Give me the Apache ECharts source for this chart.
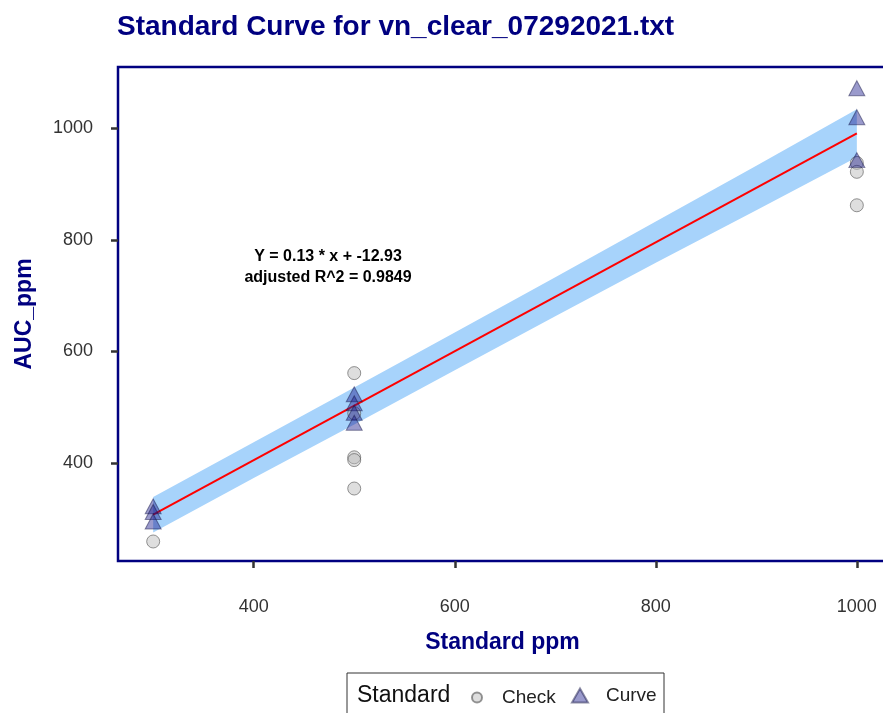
<!DOCTYPE html>
<html>
<head>
<meta charset="utf-8">
<script src="https://cdn.jsdelivr.net/npm/echarts@6/dist/echarts.min.js"></script>
<style>
  html, body { margin: 0; padding: 0; background: #fff; }
  #chart { width: 883px; height: 713px; }
</style>
</head>
<body>
<div id="chart"></div>
<script>
// standard points (Curve) and check samples
const curveX = [300, 300, 300, 500, 500, 500, 500, 1000, 1000, 1000];
const curveY = [322, 312, 295, 523, 507, 490, 472, 1072, 1020, 943];
const checkX = [300, 500, 500, 500, 500, 500, 1000, 1000, 1000];
const checkY = [259, 561, 489, 410, 405, 354, 938, 922, 862];

// fitted line and its band
const fitX = [300, 1000];
const fitY = [307, 991];
const bandX = [300, 400, 500, 600, 700, 800, 900, 1000];
const bandLower = [275, 373, 469, 566, 663, 759, 853, 948];
const bandUpper = [339, 437, 535, 634, 733, 833, 933, 1034];

const xTicks = [400, 600, 800, 1000];
const yTicks = [400, 600, 800, 1000];

const navy = '#000080';
const font = 'Liberation Sans';

const pairs = (xs, ys) => xs.map((x, i) => [x, ys[i]]);

const chart = echarts.init(document.getElementById('chart'));

// band drawn as one polygon: upper edge left->right, lower edge back
function renderBand(params, api) {
	if (params.dataIndex !== 0) return;
	const top = bandX.map((x, i) => api.coord([x, bandUpper[i]]));
	const bottom = bandX.map((x, i) => api.coord([x, bandLower[i]])).reverse();
	return {
		type: 'polygon',
		shape: {points: top.concat(bottom)},
		style: {fill: '#a7d3fb'},
		silent: true,
	};
}

chart.setOption({
	animation: false,
	textStyle: {fontFamily: font},
	title: {
		text: 'Standard Curve for vn_clear_07292021.txt',
		left: 117,
		top: 13,
		padding: 0,
		textStyle: {fontFamily: font, fontSize: 28, fontWeight: 'bold', color: navy},
	},
	grid: {
		show: true,
		left: 118,
		top: 67,
		width: 769,
		height: 494,
		outerBoundsMode: 'none',
		borderColor: navy,
		borderWidth: 2.5,
		backgroundColor: '#fff',
	},
	legend: [
		{
			data: ['Check'],
			left: 466,
			top: 683,
			itemWidth: 10,
			itemHeight: 10,
			textStyle: {fontFamily: font, fontSize: 19, color: '#222', padding: [0, 0, 0, 15]},
		},
		{
			data: ['Curve'],
			left: 566,
			top: 681,
			itemWidth: 16,
			itemHeight: 14,
			textStyle: {fontFamily: font, fontSize: 19, color: '#222', padding: [0, 0, 0, 13]},
		},
	],
	graphic: [
		{
			type: 'rect',
			shape: {x: 347, y: 673, width: 317, height: 60},
			style: {fill: 'none', stroke: '#333', lineWidth: 1},
		},
		{
			type: 'text',
			left: 357,
			top: 684,
			style: {text: 'Standard', font: '23px "Liberation Sans"', fill: '#111'},
		},
		{
			type: 'text',
			x: 328,
			y: 257,
			style: {
				text: 'Y = 0.13 * x + -12.93',
				font: 'bold 16px "Liberation Sans"',
				fill: '#000',
				align: 'center',
				verticalAlign: 'middle',
			},
		},
		{
			type: 'text',
			x: 328,
			y: 278,
			style: {
				text: 'adjusted R^2 = 0.9849',
				font: 'bold 16px "Liberation Sans"',
				fill: '#000',
				align: 'center',
				verticalAlign: 'middle',
			},
		},
	],
	xAxis: {
		type: 'value',
		min: 265,
		max: 1030,
		name: 'Standard ppm',
		nameLocation: 'middle',
		nameGap: 70,
		nameTextStyle: {fontFamily: font, fontSize: 23, fontWeight: 'bold', color: navy},
		axisLine: {show: false},
		splitLine: {show: false},
		axisTick: {
			show: true,
			length: 7,
			customValues: xTicks,
			lineStyle: {color: '#333', width: 2.5},
		},
		axisLabel: {
			customValues: xTicks,
			margin: 37,
			fontFamily: font,
			fontSize: 18,
			color: '#333',
			formatter: v => String(v),
		},
	},
	yAxis: {
		type: 'value',
		min: 224,
		max: 1110,
		name: 'AUC_ppm',
		nameLocation: 'middle',
		nameGap: 82,
		nameTextStyle: {fontFamily: font, fontSize: 23, fontWeight: 'bold', color: navy},
		axisLine: {show: false},
		splitLine: {show: false},
		axisTick: {
			show: true,
			length: 7,
			customValues: yTicks,
			lineStyle: {color: '#333', width: 2.5},
		},
		axisLabel: {
			customValues: yTicks,
			margin: 25,
			fontFamily: font,
			fontSize: 18,
			color: '#333',
			formatter: v => String(v),
		},
	},
	series: [
		{
			name: 'band',
			type: 'custom',
			renderItem: renderBand,
			data: pairs(bandX, bandLower),
			encode: {x: 0, y: 1},
			clip: true,
			silent: true,
			z: 1,
		},
		{
			name: 'fit',
			type: 'line',
			data: pairs(fitX, fitY),
			showSymbol: false,
			lineStyle: {color: '#ff0000', width: 2},
			silent: true,
			z: 2,
		},
		{
			name: 'Check',
			type: 'scatter',
			data: pairs(checkX, checkY),
			symbol: 'circle',
			symbolSize: 13,
			itemStyle: {
				color: 'rgba(185,185,185,0.6)',
				borderColor: 'rgba(80,80,80,0.75)',
				borderWidth: 1,
			},
			z: 3,
		},
		{
			name: 'Curve',
			type: 'scatter',
			data: pairs(curveX, curveY),
			symbol: 'triangle',
			symbolSize: [16, 15],
			itemStyle: {
				color: 'rgba(25,25,140,0.55)',
				borderColor: 'rgba(20,20,70,0.6)',
				borderWidth: 1,
			},
			z: 4,
		},
	],
});
</script>
</body>
</html>
